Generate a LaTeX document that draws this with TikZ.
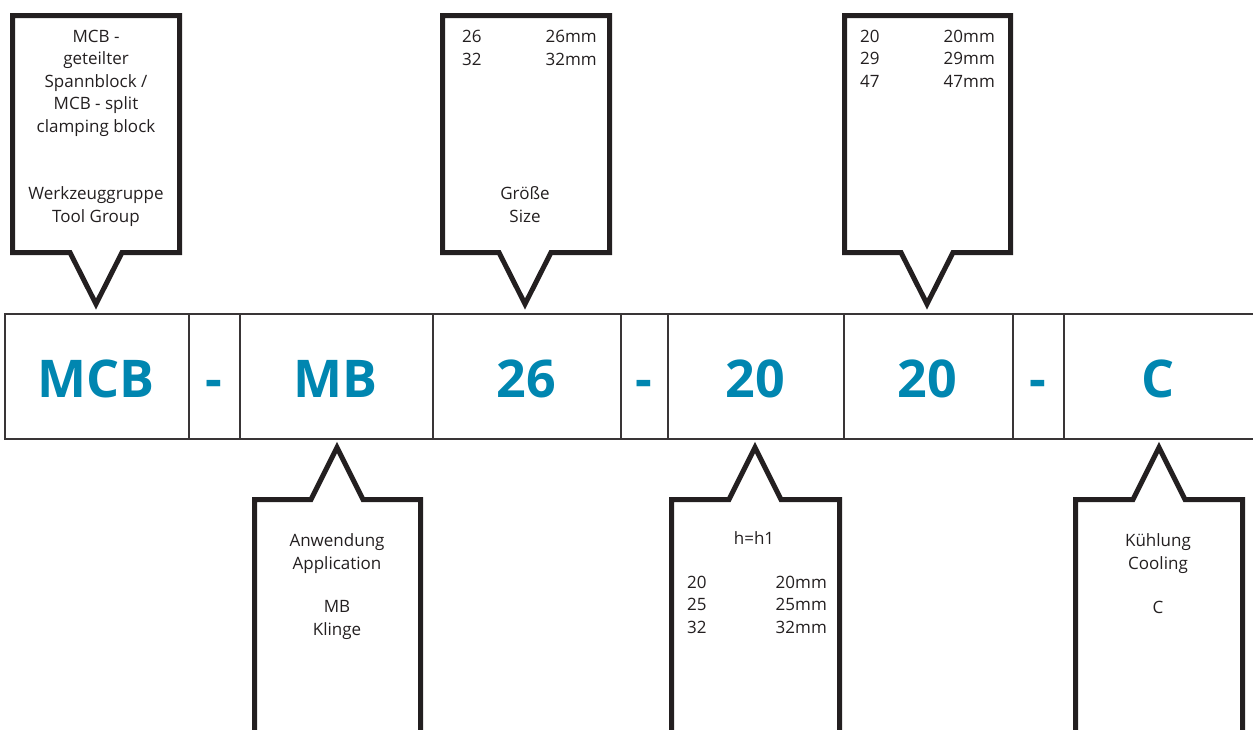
\documentclass[tikz,border=0pt]{standalone}
\usepackage{fontspec}
\setmainfont{Open Sans}
\definecolor{codeblue}{HTML}{0086B0}
\definecolor{ink}{HTML}{231F20}
\begin{document}
\begin{tikzpicture}[x=1pt,y=-1pt,
  cell/.style={draw=ink!90, line width=2.3pt, minimum height=125pt, inner sep=0pt, anchor=north west},
  code/.style={font=\fontsize{52}{52}\selectfont\bfseries, text=codeblue, anchor=base, inner sep=0pt},
  callout/.style={draw=ink, line width=5pt, line join=miter},
  info/.style={font=\fontsize{17}{22.4}\selectfont, align=center, anchor=base, inner sep=0pt, text=ink},
  colL/.style={font=\fontsize{17}{22.4}\selectfont, align=left, anchor=base west, inner sep=0pt, text=ink},
  colR/.style={font=\fontsize{17}{22.4}\selectfont, align=right, anchor=base east, inner sep=0pt, text=ink}
]
\useasboundingbox (0,0) rectangle (1253,729);

% code bar
\node[cell, minimum width=184pt] (c1) at (4,313) {};
\node[cell, minimum width=51pt] (c2) at (188,313) {};
\node[cell, minimum width=193pt] (c3) at (239,313) {};
\node[cell, minimum width=188pt] (c4) at (432,313) {};
\node[cell, minimum width=47pt] (c5) at (620,313) {};
\node[cell, minimum width=176pt] (c6) at (667,313) {};
\node[cell, minimum width=169pt] (c7) at (843,313) {};
\node[cell, minimum width=51pt] (c8) at (1012,313) {};
\node[cell, minimum width=200pt] (c9) at (1063,313) {};

\node[code] (t1) at (96,397) {MCB};
\node[code] (t2) at (213.5,397) {-};
\node[code] (t3) at (335.5,397) {MB};
\node[code] (t4) at (526,397) {26};
\node[code] (t5) at (643.5,397) {-};
\node[code] (t6) at (755,397) {20};
\node[code] (t7) at (927.5,397) {20};
\node[code] (t8) at (1037.5,397) {-};
\node[code] (t9) at (1158,397) {C};

% top callouts
\draw[callout] (12.5,15.5) -- (179.5,15.5) -- (179.5,252.5) -- (122,252.5) -- (96,304) -- (70,252.5) -- (12.5,252.5) -- cycle;
\draw[callout] (442.5,15.5) -- (609.5,15.5) -- (609.5,252.5) -- (551,252.5) -- (525,304) -- (499,252.5) -- (442.5,252.5) -- cycle;
\draw[callout] (844.5,15.5) -- (1010.5,15.5) -- (1010.5,252.5) -- (953,252.5) -- (927,304) -- (901,252.5) -- (844.5,252.5) -- cycle;

% bottom callouts
\draw[callout] (254.5,740) -- (254.5,499.5) -- (311,499.5) -- (337,447.5) -- (363,499.5) -- (420.5,499.5) -- (420.5,740);
\draw[callout] (671.5,740) -- (671.5,499.5) -- (729,499.5) -- (755,447.5) -- (781,499.5) -- (839.5,499.5) -- (839.5,740);
\draw[callout] (1075.5,740) -- (1075.5,499.5) -- (1133,499.5) -- (1159,447.5) -- (1185,499.5) -- (1242.5,499.5) -- (1242.5,740);

% texts (base anchor = baseline of last line)
\node[info] (a1) at (96,132) {MCB -\\geteilter\\Spannblock /\\MCB - split\\clamping block};
\node[info] (a2) at (96,222) {Werkzeuggruppe\\Tool Group};

\node[colL] (b1) at (462,65) {26\\32};
\node[colR] (b2) at (597,65) {26mm\\32mm};
\node[info] (b3) at (525,222) {Größe\\Size};

\node[colL] (d1) at (860,87) {20\\29\\47};
\node[colR] (d2) at (995,87) {20mm\\29mm\\47mm};

\node[info] (e1) at (337,569) {Anwendung\\Application};
\node[info] (e2) at (337,635) {MB\\Klinge};

\node[info] (f1) at (754,544) {h=h1};
\node[colL] (f2) at (687,633) {20\\25\\32};
\node[colR] (f3) at (827,633) {20mm\\25mm\\32mm};

\node[info] (g1) at (1158,569) {Kühlung\\Cooling};
\node[info] (g2) at (1158,613) {C};
\end{tikzpicture}
\end{document}
